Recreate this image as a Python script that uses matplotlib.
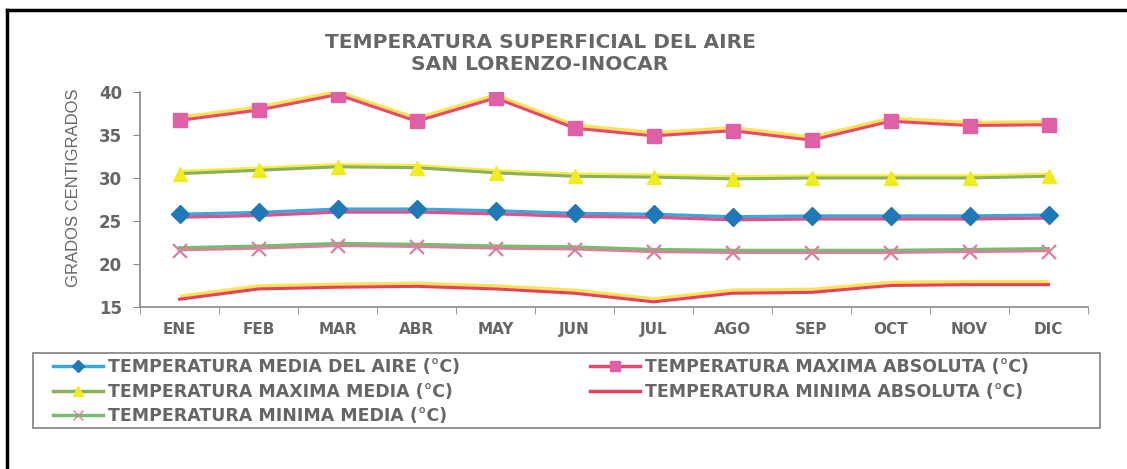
import matplotlib.pyplot as plt
import matplotlib.transforms as mtransforms
from matplotlib.lines import Line2D
from matplotlib.patches import Rectangle

plt.rcParams['font.family'] = ['DejaVu Sans']

# data
months = ['ENE', 'FEB', 'MAR', 'ABR', 'MAY', 'JUN', 'JUL', 'AGO', 'SEP', 'OCT', 'NOV', 'DIC']
t_media = [25.8, 26.0, 26.4, 26.4, 26.2, 25.9, 25.8, 25.5, 25.6, 25.6, 25.6, 25.7]
t_max_media = [30.5, 30.9, 31.3, 31.2, 30.6, 30.2, 30.1, 29.9, 30.0, 30.0, 30.0, 30.2]
t_min_media = [21.9, 22.1, 22.4, 22.3, 22.1, 22.0, 21.7, 21.6, 21.6, 21.6, 21.7, 21.8]
t_max_abs = [36.7, 37.9, 39.7, 36.6, 39.3, 35.8, 34.9, 35.5, 34.4, 36.6, 36.1, 36.2]
t_min_abs = [15.9, 17.1, 17.3, 17.4, 17.1, 16.6, 15.6, 16.6, 16.7, 17.5, 17.6, 17.6]

labels = ['TEMPERATURA MEDIA DEL AIRE (°C)',
          'TEMPERATURA MAXIMA MEDIA (°C)',
          'TEMPERATURA MINIMA MEDIA (°C)',
          'TEMPERATURA MAXIMA ABSOLUTA (°C)',
          'TEMPERATURA MINIMA ABSOLUTA (°C)']

gray = '#666666'
W, H = 1127, 469
fig = plt.figure(figsize=(W / 100, H / 100), dpi=100)
ax = fig.add_axes([140 / W, 1 - 307 / H, 948 / W, 215 / H])

x = [i + 0.5 for i in range(len(months))]

def shifted(dy):
    return mtransforms.offset_copy(ax.transData, fig=fig, x=0, y=dy, units='dots')

# each series printed with a slight colour misregistration: a shadow line plus main line
# (values, shadow colour, shadow offset px, line colour, marker, marker colour, marker size)
series = [
    (t_media, '#e0508a', -3, '#3aa6dc', 'D', '#1f78b8', 9),
    (t_max_media, '#f4ee40', 2, '#8cb060', '^', '#f0ec20', 10),
    (t_min_media, '#e878a0', -2, '#78bc70', 'x', '#d880a0', 10),
    (t_max_abs, '#ffe25a', 3, '#e84a66', 's', '#e060a8', 10.5),
    (t_min_abs, '#ffe25a', 3, '#e8405a', None, None, 0),
]

handles = []
for (vals, sc, dy, lc, mk, mc, ms), lab in zip(series, labels):
    ax.plot(x, vals, color=sc, lw=2.5, transform=shifted(dy), solid_capstyle='butt')
    ax.plot(x, vals, color=lc, lw=2.2)
    if mk:
        if mk == 'x':
            ax.plot(x, vals, ls='none', marker=mk, color=mc, ms=ms, mew=1.6,
                    transform=shifted(-3))
        else:
            ax.plot(x, vals, ls='none', marker=mk, color=mc, ms=ms, mec=mc)
    handles.append(Line2D([0], [0], color=lc, lw=2.5, marker=mk, mfc=mc, mec=mc,
                          ms=ms * 0.65 if mk else 0))

ax.set_xlim(0, 12)
ax.set_ylim(15, 40)
ax.set_yticks([15, 20, 25, 30, 35, 40])
ax.set_xticks(x)
ax.set_xticklabels(months)
ax.set_xticks(range(13), minor=True)
ax.tick_params(axis='x', which='major', length=0, pad=11, labelsize=11, labelcolor=gray)
ax.tick_params(axis='x', which='minor', length=5, color='#888888', direction='out')
ax.tick_params(axis='y', length=5, color='#888888', labelsize=12, labelcolor=gray, pad=8)
for lab in ax.get_xticklabels() + ax.get_yticklabels():
    lab.set_fontweight('bold')
for s in ['top', 'right']:
    ax.spines[s].set_visible(False)
for s in ['left', 'bottom']:
    ax.spines[s].set_color('#888888')
    ax.spines[s].set_linewidth(1.2)

ax.set_ylabel('GRADOS CENTIGRADOS', fontsize=12, color=gray,
              family=['Liberation Sans Narrow', 'Liberation Sans'])
ax.yaxis.set_label_coords(-0.062, 0.553)

fig.text(540 / W, 1 - 42 / H, 'TEMPERATURA SUPERFICIAL DEL AIRE',
         ha='center', va='center', fontsize=14.5, fontweight='bold', color=gray)
fig.text(540 / W, 1 - 64 / H, 'SAN LORENZO-INOCAR', ha='center', va='center',
         fontsize=14.5, fontweight='bold', color=gray)

# legend frame spanning the page, two legend blocks inside
fig.add_artist(Rectangle((33 / W, 1 - 428 / H), 1067 / W, 75 / H, transform=fig.transFigure,
                         fill=False, edgecolor='#8a8a8a', lw=1.3))
leg_kw = dict(loc='upper left', frameon=False, handlelength=2.9, handletextpad=0.25,
              labelspacing=0.38, borderaxespad=0, borderpad=0,
              prop={'size': 12.5, 'weight': 'bold'}, labelcolor=gray)
fig.legend(handles[:3], labels[:3], bbox_to_anchor=(53 / W, 1 - 358 / H), **leg_kw)
fig.legend(handles[3:], labels[3:], bbox_to_anchor=(590 / W, 1 - 358 / H), **leg_kw)

# outer frame of the scanned page (top and left edges visible)
fig.add_artist(Line2D([7 / W, 1], [1 - 10 / H, 1 - 10 / H], color='black', lw=2.5,
                      transform=fig.transFigure))
fig.add_artist(Line2D([7 / W, 7 / W], [0, 1 - 10 / H], color='black', lw=2.5,
                      transform=fig.transFigure))

fig.savefig('out.png', dpi=100)
